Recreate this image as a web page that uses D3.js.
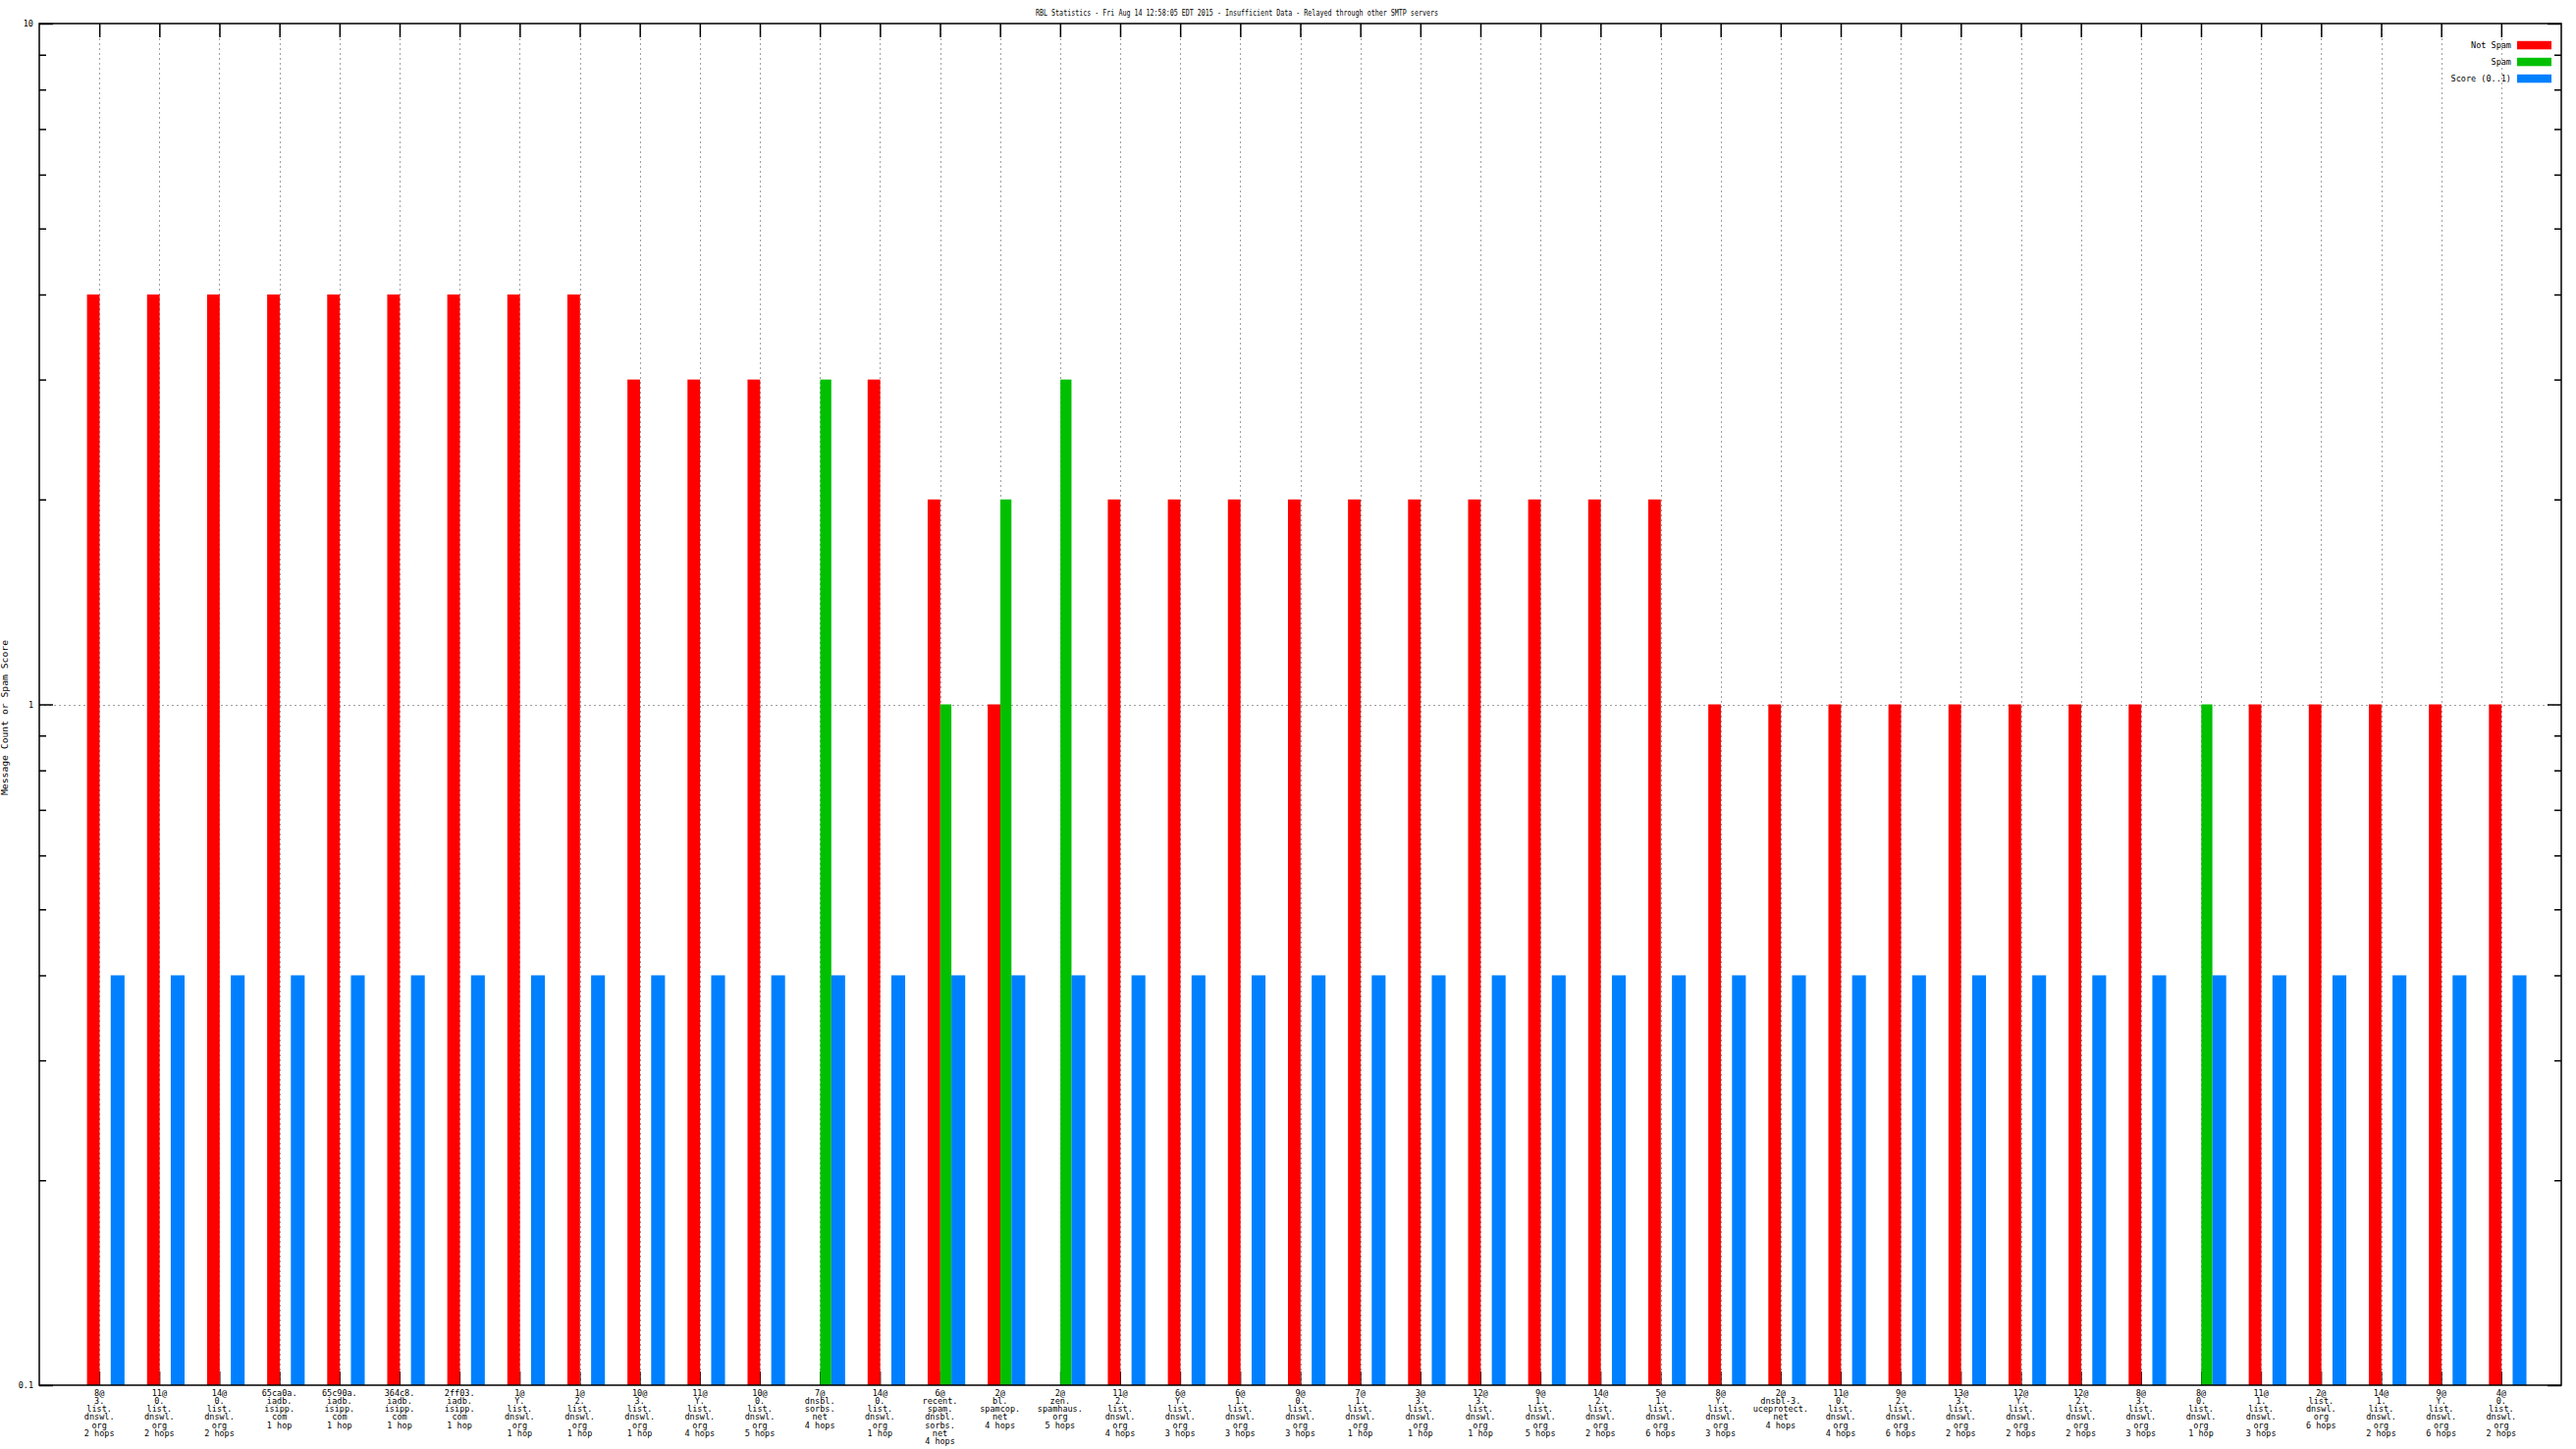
<!DOCTYPE html>
<html>
<head>
<meta charset="utf-8">
<script src="https://cdn.jsdelivr.net/npm/d3@7"></script>
<style>
  html, body { margin: 0; padding: 0; background: #fff; }
  svg { display: block; }
  text { font-family: "DejaVu Sans Mono", monospace; fill: #000; }
</style>
</head>
<body>
<script>
const title = "RBL Statistics - Fri Aug 14 12:58:05 EDT 2015 - Insufficient Data - Relayed through other SMTP servers";
const yLabel = "Message Count or Spam Score";

const categories = [
  "8@\n3.\nlist.\ndnswl.\norg\n2 hops",
  "11@\n0.\nlist.\ndnswl.\norg\n2 hops",
  "14@\n0.\nlist.\ndnswl.\norg\n2 hops",
  "65ca0a.\niadb.\nisipp.\ncom\n1 hop",
  "65c90a.\niadb.\nisipp.\ncom\n1 hop",
  "364c8.\niadb.\nisipp.\ncom\n1 hop",
  "2ff03.\niadb.\nisipp.\ncom\n1 hop",
  "1@\nY.\nlist.\ndnswl.\norg\n1 hop",
  "1@\n2.\nlist.\ndnswl.\norg\n1 hop",
  "10@\n3.\nlist.\ndnswl.\norg\n1 hop",
  "11@\nY.\nlist.\ndnswl.\norg\n4 hops",
  "10@\n0.\nlist.\ndnswl.\norg\n5 hops",
  "7@\ndnsbl.\nsorbs.\nnet\n4 hops",
  "14@\n0.\nlist.\ndnswl.\norg\n1 hop",
  "6@\nrecent.\nspam.\ndnsbl.\nsorbs.\nnet\n4 hops",
  "2@\nbl.\nspamcop.\nnet\n4 hops",
  "2@\nzen.\nspamhaus.\norg\n5 hops",
  "11@\n2.\nlist.\ndnswl.\norg\n4 hops",
  "6@\nY.\nlist.\ndnswl.\norg\n3 hops",
  "6@\n1.\nlist.\ndnswl.\norg\n3 hops",
  "9@\n0.\nlist.\ndnswl.\norg\n3 hops",
  "7@\n1.\nlist.\ndnswl.\norg\n1 hop",
  "3@\n3.\nlist.\ndnswl.\norg\n1 hop",
  "12@\n3.\nlist.\ndnswl.\norg\n1 hop",
  "9@\n1.\nlist.\ndnswl.\norg\n5 hops",
  "14@\n2.\nlist.\ndnswl.\norg\n2 hops",
  "5@\n1.\nlist.\ndnswl.\norg\n6 hops",
  "8@\nY.\nlist.\ndnswl.\norg\n3 hops",
  "2@\ndnsbl-3.\nuceprotect.\nnet\n4 hops",
  "11@\n0.\nlist.\ndnswl.\norg\n4 hops",
  "9@\n2.\nlist.\ndnswl.\norg\n6 hops",
  "13@\n3.\nlist.\ndnswl.\norg\n2 hops",
  "12@\nY.\nlist.\ndnswl.\norg\n2 hops",
  "12@\n2.\nlist.\ndnswl.\norg\n2 hops",
  "8@\n3.\nlist.\ndnswl.\norg\n3 hops",
  "8@\n0.\nlist.\ndnswl.\norg\n1 hop",
  "11@\n1.\nlist.\ndnswl.\norg\n3 hops",
  "2@\nlist.\ndnswl.\norg\n6 hops",
  "14@\n1.\nlist.\ndnswl.\norg\n2 hops",
  "9@\nY.\nlist.\ndnswl.\norg\n6 hops",
  "4@\n0.\nlist.\ndnswl.\norg\n2 hops"
];

// null = no bar
const notSpam = [4,4,4,4,4,4,4,4,4,3,3,3,null,3,2,1,null,2,2,2,2,2,2,2,2,2,2,1,1,1,1,1,1,1,1,null,1,1,1,1,1];
const spam    = [null,null,null,null,null,null,null,null,null,null,null,null,3,null,1,2,3,null,null,null,null,null,null,null,null,null,null,null,null,null,null,null,null,null,null,1,null,null,null,null,null];
const score   = [0.4,0.4,0.4,0.4,0.4,0.4,0.4,0.4,0.4,0.4,0.4,0.4,0.4,0.4,0.4,0.4,0.4,0.4,0.4,0.4,0.4,0.4,0.4,0.4,0.4,0.4,0.4,0.4,0.4,0.4,0.4,0.4,0.4,0.4,0.4,0.4,0.4,0.4,0.4,0.4,0.4];

const seriesNames = ["Not Spam", "Spam", "Score (0..1)"];
const seriesColors = ["#ff0000", "#00c000", "#0080ff"];
const majorTicks = [0.1, 1, 10];
const minorTicks = [0.2,0.3,0.4,0.5,0.6,0.7,0.8,0.9,2,3,4,5,6,7,8,9];

const W = 2624, H = 1476;
const L = 40, R = 2609, T = 24, B = 1411;

const svg = d3.select("body").append("svg").attr("width", W).attr("height", H);

const x = d3.scaleLinear().domain([-1, categories.length]).range([L, R]);
const y = d3.scaleLog().domain([0.1, 10]).range([B, T]);

const idx = d3.range(categories.length);

function styleAxis(g) {
  g.select(".domain").remove();
  g.selectAll("line").attr("stroke", "#000").attr("stroke-width", 1.5);
  g.selectAll("text").attr("font-family", "DejaVu Sans Mono, monospace").attr("font-size", 8.5).attr("fill", "#000");
}

// grid
const grid = svg.append("g").attr("stroke", "#a0a0a0").attr("stroke-width", 1).attr("stroke-dasharray", "2,3");
grid.selectAll("line.v").data(idx).join("line")
  .attr("x1", d => Math.round(x(d)) + 0.5).attr("x2", d => Math.round(x(d)) + 0.5)
  .attr("y1", T).attr("y2", B);
grid.append("line")
  .attr("x1", L).attr("x2", R)
  .attr("y1", Math.round(y(1)) + 0.5).attr("y2", Math.round(y(1)) + 0.5);

// bottom x ticks (behind bars)
svg.append("g").attr("transform", `translate(0,${B})`)
  .call(d3.axisBottom(x).tickValues(idx).tickSize(-14).tickFormat(""))
  .call(styleAxis)
  .selectAll("line").attr("stroke-width", 1);

// bars
const series = [notSpam, spam, score];
const offsets = [[-0.205, 0.005], [0.005, 0.19], [0.19, 0.42]];
series.forEach((vals, s) => {
  svg.append("g").attr("fill", seriesColors[s])
    .selectAll("rect").data(idx.filter(i => vals[i] != null)).join("rect")
    .attr("x", i => x(i + offsets[s][0]))
    .attr("width", i => x(i + offsets[s][1]) - x(i + offsets[s][0]))
    .attr("y", i => y(vals[i]))
    .attr("height", i => y(0.1) - y(vals[i]));
});

// axes
svg.append("g").attr("transform", `translate(${L},0)`)
  .call(d3.axisLeft(y).tickValues(majorTicks).tickSize(-14).tickPadding(6).tickFormat(d3.format("~g")))
  .call(styleAxis);
svg.append("g").attr("transform", `translate(${L},0)`)
  .call(d3.axisLeft(y).tickValues(minorTicks).tickSize(-7).tickFormat(""))
  .call(styleAxis);
svg.append("g").attr("transform", `translate(${R},0)`)
  .call(d3.axisRight(y).tickValues(majorTicks).tickSize(-14).tickFormat(""))
  .call(styleAxis);
svg.append("g").attr("transform", `translate(${R},0)`)
  .call(d3.axisRight(y).tickValues(minorTicks).tickSize(-7).tickFormat(""))
  .call(styleAxis);
svg.append("g").attr("transform", `translate(0,${T})`)
  .call(d3.axisTop(x).tickValues(idx).tickSize(-14).tickFormat(""))
  .call(styleAxis);

// border
svg.append("rect").attr("x", L).attr("y", T).attr("width", R - L).attr("height", B - T)
  .attr("fill", "none").attr("stroke", "#000").attr("stroke-width", 1.5);

// x labels
const xl = svg.append("g").attr("font-size", 8.5).attr("text-anchor", "middle");
idx.forEach(i => {
  const t = xl.append("text").attr("x", x(i)).attr("y", 1421.5);
  categories[i].split("\n").forEach((line, k) => {
    t.append("tspan").attr("x", x(i)).attr("dy", k === 0 ? 0 : 8.3).text(line);
  });
});

// title
svg.append("text").attr("x", 1260).attr("y", 16).attr("text-anchor", "middle")
  .attr("font-size", 8.5).attr("textLength", 410).attr("lengthAdjust", "spacingAndGlyphs").text(title);

// y label
svg.append("text").attr("transform", "translate(8,731) rotate(-90)").attr("text-anchor", "middle")
  .attr("font-size", 9).attr("textLength", 158).attr("lengthAdjust", "spacingAndGlyphs").text(yLabel);

// legend
const legY = [46, 63, 80];
const leg = svg.append("g");
seriesNames.forEach((name, s) => {
  leg.append("text").attr("x", 2558).attr("y", legY[s] + 3).attr("text-anchor", "end")
    .attr("font-size", 8.5).text(name);
  leg.append("rect").attr("x", 2564).attr("y", legY[s] - 4.2).attr("width", 35).attr("height", 8.5)
    .attr("fill", seriesColors[s]);
});
</script>
</body>
</html>
